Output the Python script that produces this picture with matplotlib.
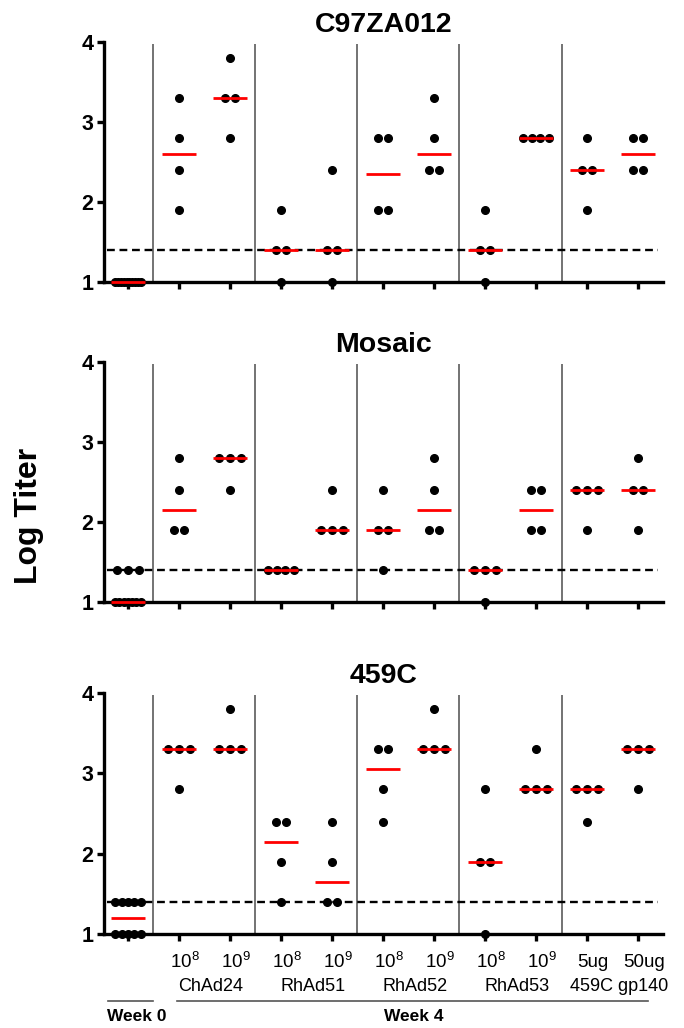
import numpy as np
import matplotlib
matplotlib.use("Agg")
import matplotlib.pyplot as plt

plt.rcParams['font.family'] = ['Liberation Sans', 'DejaVu Sans']

# ---- data (log titers per animal, one list per group) ----
panel_titles = ["C97ZA012", "Mosaic", "459C"]
dose_labels = ["", r"$\mathregular{10^8}$", r"$\mathregular{10^9}$",
               r"$\mathregular{10^8}$", r"$\mathregular{10^9}$",
               r"$\mathregular{10^8}$", r"$\mathregular{10^9}$",
               r"$\mathregular{10^8}$", r"$\mathregular{10^9}$",
               "5ug", "50ug"]
vector_labels = ["ChAd24", "RhAd51", "RhAd52", "RhAd53", "459C gp140"]
week_labels = ["Week 0", "Week 4"]
cutoff = 1.4

c97za012 = [
    [1.0, 1.0, 1.0, 1.0, 1.0, 1.0, 1.0, 1.0, 1.0, 1.0],
    [3.3, 2.8, 2.4, 1.9],
    [3.8, 3.3, 3.3, 2.8],
    [1.9, 1.4, 1.4, 1.0],
    [2.4, 1.4, 1.4, 1.0],
    [2.8, 2.8, 1.9, 1.9],
    [3.3, 2.8, 2.4, 2.4],
    [1.9, 1.4, 1.4, 1.0],
    [2.8, 2.8, 2.8, 2.8],
    [2.8, 2.4, 2.4, 1.9],
    [2.8, 2.8, 2.4, 2.4],
]
mosaic = [
    [1.4, 1.4, 1.4, 1.0, 1.0, 1.0, 1.0, 1.0, 1.0, 1.0],
    [2.8, 2.4, 1.9, 1.9],
    [2.8, 2.8, 2.8, 2.4],
    [1.4, 1.4, 1.4, 1.4],
    [2.4, 1.9, 1.9, 1.9],
    [2.4, 1.9, 1.9, 1.4],
    [2.8, 2.4, 1.9, 1.9],
    [1.4, 1.4, 1.4, 1.0],
    [2.4, 2.4, 1.9, 1.9],
    [2.4, 2.4, 2.4, 1.9],
    [2.8, 2.4, 2.4, 1.9],
]
c459 = [
    [1.4, 1.4, 1.4, 1.4, 1.4, 1.0, 1.0, 1.0, 1.0, 1.0],
    [3.3, 3.3, 3.3, 2.8],
    [3.8, 3.3, 3.3, 3.3],
    [2.4, 2.4, 1.9, 1.4],
    [2.4, 1.9, 1.4, 1.4],
    [3.3, 3.3, 2.8, 2.4],
    [3.8, 3.3, 3.3, 3.3],
    [2.8, 1.9, 1.9, 1.0],
    [3.3, 2.8, 2.8, 2.8],
    [2.8, 2.8, 2.8, 2.4],
    [3.3, 3.3, 3.3, 2.8],
]
panels = [c97za012, mosaic, c459]


def spread(vals):
    # column-scatter: tied values spread side by side around the centre
    vals = np.asarray(vals)
    off = np.zeros(len(vals))
    for v in np.unique(vals):
        idx = np.where(vals == v)[0]
        n = len(idx)
        if n > 1:
            step = min(0.21, 0.5 / (n - 1))
            off[idx] = (np.arange(n) - (n - 1) / 2) * step
    return off


W, H = 684, 1028
left, right = 104, 663
rows = [(42, 282), (362, 602), (693, 934)]

fig = plt.figure(figsize=(W / 100, H / 100), dpi=100)

for k, (title, data) in enumerate(zip(panel_titles, panels)):
    top, bot = rows[k]
    ax = fig.add_axes([left / W, 1 - bot / H, (right - left) / W, (bot - top) / H])
    ax.set_xlim(-0.47, 10.49)
    ax.set_ylim(1, 4)
    for s in ["top", "right"]:
        ax.spines[s].set_visible(False)
    for s in ["left", "bottom"]:
        ax.spines[s].set_linewidth(2.4)
    ax.set_yticks([1, 2, 3, 4])
    ax.set_yticklabels(["1", "2", "3", "4"], fontsize=15.5, fontweight="bold")
    ax.tick_params(axis="y", length=5, width=2.4, pad=2.5)
    ax.set_xticks(range(len(data)))
    ax.set_xticklabels([])
    ax.tick_params(axis="x", length=5, width=2.4)

    ax.vlines([0.5, 2.5, 4.5, 6.5, 8.5], 1, 3.97, color="#4d4d4d", lw=1.1, zorder=1)
    ax.hlines(cutoff, -0.42, 10.4, color="black", lw=1.7,
              linestyles=[(0, (3.3, 2.0))], zorder=2)

    for i, vals in enumerate(data):
        ax.plot(i + spread(vals), vals, "o", ms=5.5, color="black",
                clip_on=False, zorder=4)
        med = np.median(vals)
        ax.hlines(med, i - 0.33, i + 0.33, color="red", lw=2.0,
                  zorder=5, clip_on=False)

    ax.set_title(title, fontsize=20.5, fontweight="bold", pad=7)

    if k == 2:
        for i, lab in enumerate(dose_labels):
            ax.text(i + 0.12, 0.65, lab, ha="center", va="center",
                    fontsize=13.5, clip_on=False)
        for j, lab in enumerate(vector_labels):
            ax.text(1.5 + 2 * j + 0.13, 0.35, lab, ha="center", va="center",
                    fontsize=13, clip_on=False)
        ax.plot([-0.4, 0.5], [0.16, 0.16], color="#555555", lw=1.2, clip_on=False)
        ax.plot([0.96, 10.2], [0.16, 0.16], color="#555555", lw=1.2, clip_on=False)
        ax.text(0.18, -0.03, week_labels[0], ha="center", va="center",
                fontsize=12.5, fontweight="bold", clip_on=False)
        ax.text(5.6, -0.03, week_labels[1], ha="center", va="center",
                fontsize=12.5, fontweight="bold", clip_on=False)

fig.text(29 / W, 1 - 516 / H, "Log Titer", rotation=90, fontsize=23,
         fontweight="bold", ha="center", va="center")

fig.savefig("out.png", dpi=100)
